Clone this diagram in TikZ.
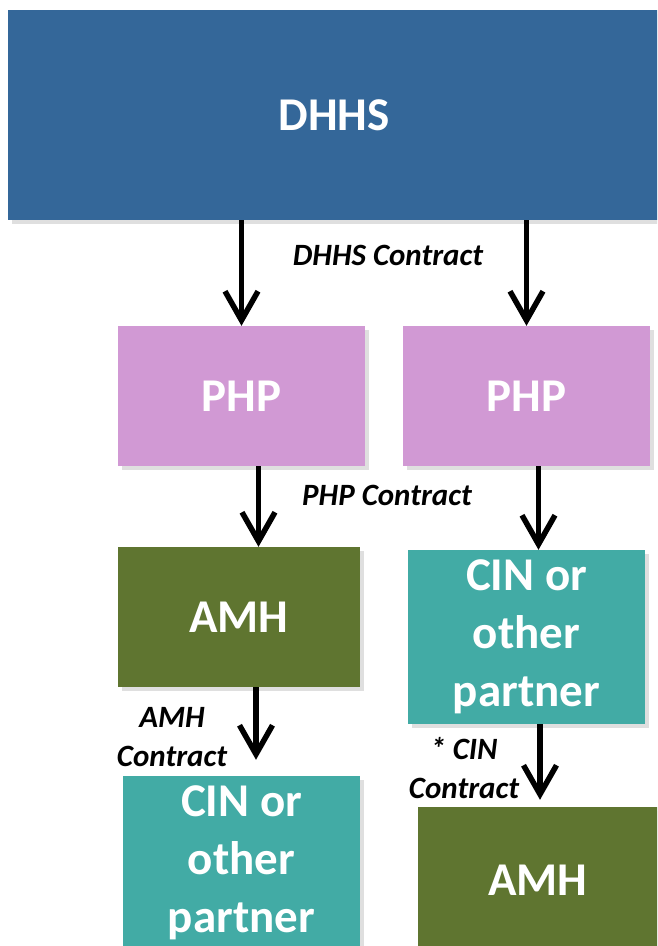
\documentclass[tikz,border=0pt]{standalone}
\usepackage{fontspec}
\setmainfont{Carlito}
\usetikzlibrary{arrows.meta,shadows}
\definecolor{dhhsblue}{RGB}{52,103,153}
\definecolor{phppink}{RGB}{209,153,212}
\definecolor{amhgreen}{RGB}{95,117,48}
\definecolor{cinteal}{RGB}{66,171,165}
\begin{document}
\begin{tikzpicture}[x=1pt,y=-1pt,
  box/.style={draw=none, inner sep=0pt, text=white,
    font=\fontsize{47}{58}\selectfont\bfseries, align=center,
    drop shadow={shadow xshift=4pt, shadow yshift=-4pt, opacity=0.25}},
  conn/.style={line width=5.5pt, -{Straight Barb[length=29pt,width=33pt]}},
  lbl/.style={font=\fontsize{31}{39}\selectfont\bfseries\itshape, align=center, inner sep=0pt}]
\useasboundingbox (0,0) rectangle (657,946);
\clip (0,0) rectangle (657,946);

\node[box, fill=dhhsblue, minimum width=652pt, minimum height=210pt] (dhhs) at (334,115) {DHHS};

\node[box, fill=phppink, minimum width=247pt, minimum height=140pt] (phpL) at (241.5,396) {PHP};
\node[box, fill=phppink, minimum width=247pt, minimum height=140pt] (phpR) at (526.5,396) {PHP};

\node[box, fill=amhgreen, minimum width=242pt, minimum height=140pt] (amhL) at (239,617) {AMH};
\node[box, fill=cinteal, minimum width=237pt, minimum height=171pt] (cinR) at (526.5,637)
  {\raisebox{-4pt}{\begin{tabular}{@{}c@{}}CIN or\\other\\partner\end{tabular}}};

\node[box, fill=cinteal, minimum width=237pt, minimum height=172pt] (cinL) at (241.5,863)
  {\raisebox{-4pt}{\begin{tabular}{@{}c@{}}CIN or\\other\\partner\end{tabular}}};
\node[box, fill=amhgreen, minimum width=240pt, minimum height=146pt] (amhR) at (538,880) {AMH};

% connectors
\draw[conn] (dhhs.south -| phpL.north) -- (phpL.north);
\draw[conn] (dhhs.south -| phpR.north) -- (phpR.north);
\draw[conn] ([xshift=17pt]phpL.south) -- ([xshift=17pt]phpL.south |- amhL.north);
\draw[conn] ([xshift=12pt]phpR.south) -- ([xshift=12pt]phpR.south |- cinR.north);
\draw[conn] ([xshift=17pt]amhL.south) -- ([xshift=17pt,yshift=16pt]amhL.south |- cinL.north);
\draw[conn] ([xshift=13.5pt]cinR.south) -- ([xshift=13.5pt,yshift=7pt]cinR.south |- amhR.north);

% labels
\node[lbl] (l1) at (388,255) {DHHS Contract};
\node[lbl] (l2) at (387,495) {PHP Contract};
\node[lbl] (l3) at (172,737) {AMH\\Contract};
\node[lbl] (l4) at (464,768) {* CIN\\Contract};
\end{tikzpicture}
\end{document}
